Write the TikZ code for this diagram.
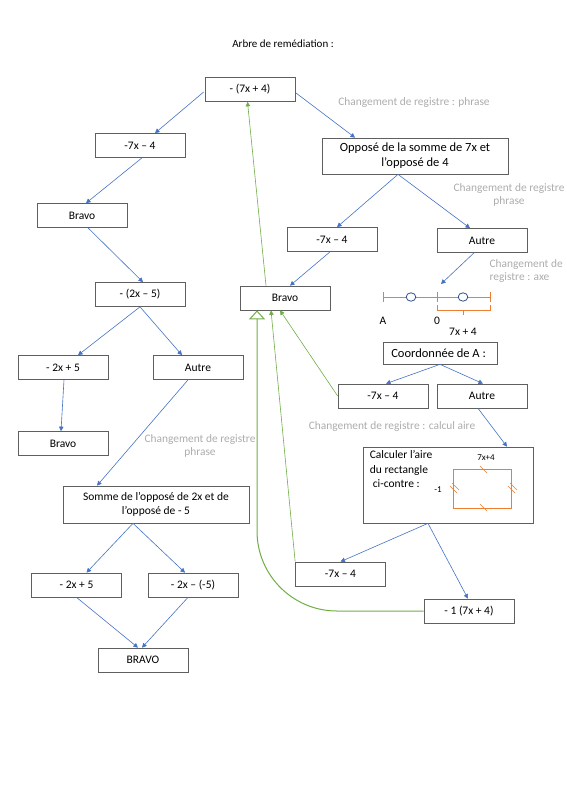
\documentclass[tikz,border=0pt]{standalone}
\usepackage{fontspec}
\setmainfont{Carlito}
\usepackage{tikz}
\usetikzlibrary{
	arrows.meta,
	calc,
	positioning
}

\definecolor{bleu}{RGB}{68,114,196}
\definecolor{vert}{RGB}{112,173,71}
\definecolor{orangeaxe}{RGB}{237,125,49}
\definecolor{cercle}{RGB}{47,82,143}
\definecolor{gris}{RGB}{172,172,172}
\definecolor{bord}{RGB}{95,95,95}

\begin{document}
\begin{tikzpicture} [
		x = 1pt,
		y = -1pt,
		box/.style = {
			rectangle,
			draw = bord,
			line width = 0.7pt,
			inner sep = 0pt,
			minimum width = 90pt,
			minimum height = 24pt,
			align = center,
			font = \fontsize{11.5}{14}\selectfont
		},
		line/.style = {
			draw,
			line width = 0.6pt,
			-{Triangle[length = 4.5pt, width = 4.5pt]},
		},
		line-caption/.style = {
			text = gris,
			align = center,
			font = \fontsize{11.4}{13}\selectfont
		},
		numline/.style = {
			draw = orangeaxe,
			line width = 0.8pt
		},
		small/.style = {
			inner sep = 0pt,
			font = \fontsize{9}{10}\selectfont
		}
	]

	\useasboundingbox (0,0) rectangle (566,800);

	\node[font = \fontsize{11}{13}\selectfont] (titre) at (283,44) {
		Arbre de remédiation :
	};

	% left branch
	\node[box] (t) at (250,89.5) {- (7x + 4)};
	\node[box] (a) at (140,145.5) {-7x – 4};
	\node[box] (ab) at (82,215.5) {Bravo};
	\node[box] (b) at (140,294.5) {- (2x – 5)};
	\node[box] (b1) at (63,367.5) {- 2x + 5};
	\node[box] (b2) at (198,367.5) {Autre};
	\node[box] (b1b) at (63,443.5) {Bravo};
	\node[box, minimum width = 186pt, minimum height = 37pt] (s) at (156,504.5) {
		Somme de l’opposé de 2x et de\\l’opposé de - 5
	};
	\node[box] (s1) at (76.5,585) {- 2x + 5};
	\node[box] (s2) at (193,585) {- 2x – (-5)};
	\node[box] (sb) at (143,660) {BRAVO};

	% right branch
	\node[box, minimum width = 186pt, minimum height = 36pt,
		font = \fontsize{12.5}{15}\selectfont] (p) at (415,156) {
		Opposé de la somme de 7x et\\l’opposé de 4
	};
	\node[box] (p1) at (332,239.5) {-7x – 4};
	\node[box] (p2) at (482,240.5) {Autre};
	\node[box] (pb) at (285,298) {Bravo};
	\node[box, minimum width = 114pt, minimum height = 22pt,
		font = \fontsize{12.5}{15}\selectfont] (c) at (440,353) {
		Coordonnée de A :
	};
	\node[box] (c1) at (383,396) {-7x – 4};
	\node[box] (c2) at (482,396) {Autre};
	\node[box, minimum width = 170pt, minimum height = 76pt] (r) at (448,485) {};
	\node[box] (r1) at (340.5,574) {-7x – 4};
	\node[box] (r2) at (469,611) {- 1 (7x + 4)};

	% captions
	\node[line-caption] (cap1) at (414,103) {Changement de registre : phrase};
	\node[line-caption] (cap2) at (509,195) {Changement de registre\\phrase};
	\node[line-caption, align = left, anchor = west] (cap3) at (486,271) {
		Changement de\\registre : axe
	};
	\node[line-caption] (cap4) at (392,427) {Changement de registre : calcul aire};
	\node[line-caption] (cap5) at (200,446) {Changement de registre\\phrase};

	% number line
	\draw[numline] (383,297) -- (406,297) (416,297) -- (458,297) (468,297) -- (490,297);
	\draw[numline] (383,292) -- (383,302);
	\draw[numline] (437,292) -- (437,302);
	\draw[numline] (490,292) -- (490,302);
	\draw[numline] (437,305) |- (490,310) -- (490,305);
	\draw[numline] (463.5,310) -- (463.5,315);
	\draw[cercle, line width = 0.8pt] (411,297) ellipse [x radius = 4.8, y radius = 4.2];
	\draw[cercle, line width = 0.8pt] (463,297) ellipse [x radius = 4.8, y radius = 4.2];
	\coordinate (zeroaxis) at (441,284);
	\node (lA) at (383,321) {\fontsize{11.5}{14}\selectfont A};
	\node (l0) at (437,321) {\fontsize{11.5}{14}\selectfont 0};
	\node (l7) at (463,332) {\fontsize{11.5}{14}\selectfont 7x + 4};

	% rectangle
	\node[anchor = north west, align = left, inner sep = 0pt,
		font = \fontsize{11.5}{14.5}\selectfont] (rtxt) at ($(r.north west)+(7,4)$) {
		Calculer l’aire\\du rectangle\\\hspace{3pt}ci-contre :
	};
	\draw[numline] (453,469) rectangle (511,508);
	\draw[numline, line width = 0.6pt] (480,466) -- (487,473) (480,504) -- (487,511);
	\draw[numline, line width = 0.6pt] (450,486) -- (457,493) (452,483) -- (459,490);
	\draw[numline, line width = 0.6pt] (508,486) -- (515,493) (510,483) -- (517,490);
	\node[small] (rl) at (486,458) {7x+4};
	\node[small] (rh) at (438,490) {-1};

	\begin{scope} [
			every path/.style = line, bleu
		]
		\path ($(t.west)+(-1,2.5)$) -- ($(a.north)+(15,0)$);
		\path ($(t.east)+(0,3)$) -- ($(p.north)+(-60,0)$);
		\path ($(a.south)+(2,0)$) -- ($(ab.north)+(4,0)$);
		\path ($(ab.south)+(6,0)$) -- ($(b.north)+(3,0)$);
		\path (b.south) -- ($(b1.north)+(15,0)$);
		\path (b.south) -- ($(b2.north)+(-16,0)$);
		\path ($(b1.south)+(1,0)$) -- ($(b1b.north)+(-2,0)$);
		\path ($(b2.south)+(-10,0)$) -- ($(s.north)+(-59,0)$);
		\path ($(s.south)+(-23,0)$) -- ($(s1.north)+(10,0)$);
		\path ($(s.south)+(-23,0)$) -- ($(s2.north)+(-8,0)$);
		\path (s1.south) -- ($(sb.north)+(-5,0)$);
		\path ($(s2.south)+(-5,0)$) -- ($(sb.north)+(-1,0)$);

		\path ($(p.south)+(-17,0)$) -- ($(p1.north)+(5,0)$);
		\path ($(p.south)+(-17,0)$) -- ($(p2.north)+(-12,0)$);
		\path ($(p1.south)+(-2,0)$) -- ($(pb.north)+(5,0)$);
		\path ($(p2.south)+(-8,0)$) -- (zeroaxis);
		\path (c.south) -- ($(c1.north)+(3,0)$);
		\path (c.south) -- ($(c2.north)+(1,0)$);
		\path ($(c2.south)+(-4,0)$) -- ($(r.north)+(59,0)$);
		\path ($(r.south)+(-20,0)$) -- (r1.north);
		\path ($(r.south)+(-20,0)$) -- ($(r2.north)+(-1,0)$);
	\end{scope}

	\begin{scope} [
			every path/.style = line, vert
		]
		\path ($(pb.north)+(-19,0)$) -- ($(t.south)+(-2.5,0)$);
		\path (r1.north west) -- ($(pb.south)+(-14,0)$);
		\path (c1.west) -- ($(pb.south)+(-5,0)$);
		\path[line width = 1pt, rounded corners = 80pt,
			-{Triangle[open, length = 9pt, width = 16pt]}]
			(r2.west) -| ($(pb.south)+(-28,0)$);
	\end{scope}
\end{tikzpicture}
\end{document}
